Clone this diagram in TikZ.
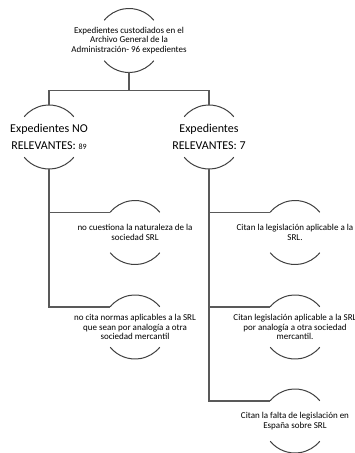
\documentclass[tikz,border=0pt]{standalone}
\usepackage{fontspec}
\setmainfont{Carlito}
\usetikzlibrary{positioning}
\definecolor{rimgray}{HTML}{404040}
\definecolor{linkgray}{HTML}{595959}
\begin{document}
\begin{tikzpicture}[x=1pt, y=1pt, node distance={95pt}, on grid,
  main/.style = {circle, minimum size=64pt, inner sep=0pt, outer sep=0pt},
  big/.style = {align=center, font=\fontsize{12}{16.5}\selectfont},
  small/.style = {align=center, font=\fontsize{9}{9.8}\selectfont},
  rim/.style = {draw=rimgray, line width=1pt},
  link/.style = {draw=linkgray, line width=1.4pt}]
\useasboundingbox (0,0) rectangle (354,453);

\node[main, label={[small]center:Expedientes custodiados en el\\Archivo General de la\\Administración- 96 expedientes}] (T) at (129,412.5) {};
\node[main, label={[big]center:Expedientes NO\\RELEVANTES: {\fontsize{8}{8}\selectfont 89}}] (NO) [below left=96.5pt and 80pt of T] {};
\node[main, label={[big]center:Expedientes\\RELEVANTES: 7}] (REL) [below right=96.5pt and 80pt of T] {};

\node[main, label={[small]center:no cuestiona la naturaleza de la\\sociedad SRL}] (G1) [below right=95.5pt and 86pt of NO] {};
\node[main, label={[small]center:no cita normas aplicables a la SRL\\que sean por analogía a otra\\sociedad mercantil}] (G2) [below=94.5pt of G1] {};

\node[main, label={[small]center:Citan la legislación aplicable a la\\SRL.}] (R1) [below right=95.5pt and 86pt of REL] {};
\node[main, label={[small]center:Citan legislación aplicable a la SRL\\por analogía a otra sociedad\\mercantil.}] (R2) [below=94.5pt of R1] {};
\node[main, label={[small]center:Citan la falta de legislación en\\España sobre SRL}] (R3) [below=94pt of R2] {};

% top and bottom arcs of every node
\foreach \n in {T,NO,REL,G1,G2,R1,R2,R3} {
  \draw[rim] (\n.39) arc[start angle=39, end angle=141, radius=32pt];
  \draw[rim] (\n.219) arc[start angle=219, end angle=321, radius=32pt];
}

\draw[link] (T.south) -- ++(0,-18) -| (NO.north);
\draw[link] (T.south) -- ++(0,-18) -| (REL.north);

\draw[link] (NO.south) |- (G1.141);
\draw[link] (NO.south) |- (G2.141);

\draw[link] (REL.south) |- (R1.141);
\draw[link] (REL.south) |- (R2.141);
\draw[link] (REL.south) |- (R3.141);

\end{tikzpicture}
\end{document}
